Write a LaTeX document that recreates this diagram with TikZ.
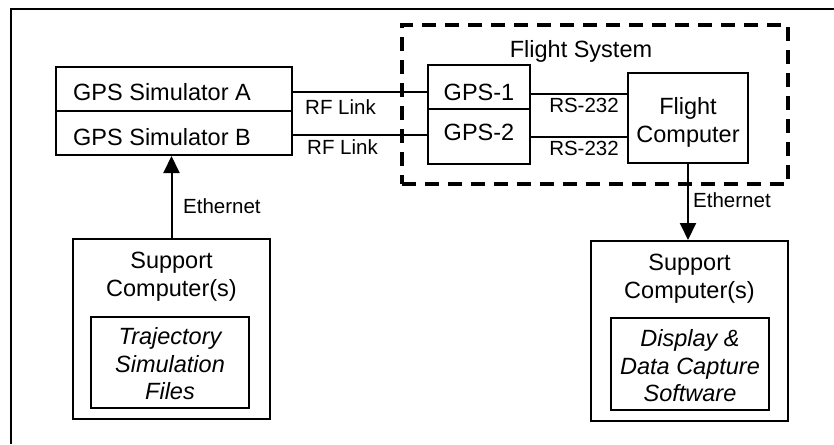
\documentclass[tikz,border=0pt]{standalone}
\usepackage{fontspec}
\setmainfont{Liberation Sans}
\usetikzlibrary{arrows.meta}
\begin{document}
\begin{tikzpicture}[x=1pt,y=-1pt,
  box/.style={draw, line width=2pt, inner sep=0pt},
  big/.style={font=\fontsize{23.5}{28}\selectfont, inner sep=0pt},
  bigit/.style={font=\fontsize{23.5}{27.5}\selectfont\itshape, inner sep=0pt},
  lab/.style={font=\fontsize{20.5}{24}\selectfont, inner sep=0pt},
  wire/.style={line width=2pt},
  arr/.style={line width=2pt, -{Triangle[width=16pt,length=17pt]}},
  dashbox/.style={draw, line width=3.5pt, dash pattern=on 14pt off 9pt, inner sep=0pt}
]
\useasboundingbox (0,0) rectangle (834,444);
% frame
\draw[line width=2pt] (834,9) -- (11,9) -- (11,444);

% GPS simulators
\node[box, minimum width=236pt, minimum height=44pt] (simA) at (174,89) {};
\node[box, minimum width=236pt, minimum height=44pt] (simB) at (174,133) {};
\node[big, anchor=base west] (simAt) at (73,100) {GPS Simulator A};
\node[big, anchor=base west] (simBt) at (73,145) {GPS Simulator B};

% Flight system
\node[dashbox, minimum width=386pt, minimum height=159pt] (fs) at (595,104.5) {};
\node[big, anchor=base] (fst) at (581,57) {Flight System};

\node[box, minimum width=102pt, minimum height=44pt] (gps1) at (479,87) {};
\node[box, minimum width=102pt, minimum height=55pt] (gps2) at (479,136.5) {};
\node[big, anchor=base] (gps1t) at (479,100) {GPS-1};
\node[big, anchor=base] (gps2t) at (479,140) {GPS-2};

\node[box, minimum width=120pt, minimum height=90pt] (fc) at (688,118) {};
\node[big, align=center] (fct) at (688,122.5) {Flight\\Computer};

% links
\draw[wire] ([yshift=-3pt]simA.east) -- ([yshift=-5pt]gps1.west);
\draw[wire] ([yshift=-2pt]simB.east) -- ([yshift=1.5pt]gps2.west);
\draw[wire] ([yshift=-7pt]gps1.east) -- ([yshift=24pt]fc.west);
\draw[wire] ([yshift=-0.5pt]gps2.east) -- ([yshift=-19pt]fc.west);

\node[lab, anchor=base west] (rf1) at (305,114) {RF Link};
\node[lab, anchor=base west] (rf2) at (307,154) {RF Link};
\node[lab, anchor=base] (rs1) at (584,112) {RS-232};
\node[lab, anchor=base] (rs2) at (584,155) {RS-232};

% Support computers
\node[box, minimum width=197pt, minimum height=180pt] (supL) at (171.5,329) {};
\node[big, align=center] (supLt) at (171.5,277) {Support\\Computer(s)};
\node[box, minimum width=158pt, minimum height=91pt] (innL) at (170,362.5) {};
\node[bigit, align=center] (innLt) at (170,364) {Trajectory\\Simulation\\Files};

\node[box, minimum width=197pt, minimum height=180pt] (supR) at (689.5,331) {};
\node[big, align=center] (supRt) at (689.5,279) {Support\\Computer(s)};
\node[box, minimum width=158pt, minimum height=92pt] (innR) at (690,364) {};
\node[bigit, align=center] (innRt) at (690,366) {Display \&\\Data Capture\\Software};

% Ethernet
\draw[arr] (supL.north) -- (supL.north |- simB.south);
\draw[arr] (fc.south) -- (fc.south |- supR.north);
\node[lab, anchor=base west] (eth1) at (183,213) {Ethernet};
\node[lab, anchor=base west] (eth2) at (693,207) {Ethernet};
\end{tikzpicture}
\end{document}
